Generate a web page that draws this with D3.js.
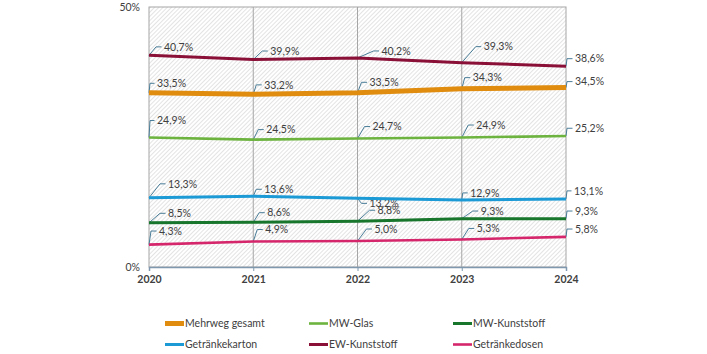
<!DOCTYPE html>
<html><head><meta charset="utf-8">
<script src="https://cdn.jsdelivr.net/npm/d3@7"></script>
<style>body{margin:0;background:#fff}svg{display:block}text{font-family:Lato,"Open Sans",sans-serif;fill:#404040}</style>
</head><body>
<script>
const years = ["2020","2021","2022","2023","2024"];
const seriesNames = ["Mehrweg gesamt","MW-Glas","MW-Kunststoff","Getränkekarton","EW-Kunststoff","Getränkedosen"];
const mehrwegGesamt = [33.5,33.2,33.5,34.3,34.5];
const mwGlas = [24.9,24.5,24.7,24.9,25.2];
const mwKunststoff = [8.5,8.6,8.8,9.3,9.3];
const getraenkekarton = [13.3,13.6,13.2,12.9,13.1];
const ewKunststoff = [40.7,39.9,40.2,39.3,38.6];
const getraenkedosen = [4.3,4.9,5.0,5.3,5.8];
const yTicks = [0,50];
// label offsets (text start dx, text centre dy) in px, layout only
const labelOffsets = [
  [[8,-9.5],[11,-9.5],[12,-10.5],[11,-11],[9,-6]],
  [[8,-17],[13,-10],[15,-12],[14.5,-12.5],[9,-7.7]],
  [[19,-9.5],[14,-9.6],[20,-11],[19,-7.6],[9,-7.6]],
  [[19,-14],[11,-7],[12,5],[8.5,-7],[8,-8]],
  [[15,-8.5],[17,-8.5],[24,-7],[22,-16],[9,-7.6]],
  [[10,-13.6],[12,-12],[17,-12],[15,-11],[9,-7.8]]
];
const colors = ["#df8c0f","#6cb33f","#17752c","#1c9ad6","#8a1038","#d5266b"];
const widths = [5,2.6,3,3,3,2.6];
const allValues = [mehrwegGesamt,mwGlas,mwKunststoff,getraenkekarton,ewKunststoff,getraenkedosen];

const W=707,H=354;
const svg=d3.select("body").append("svg").attr("width",W).attr("height",H);
const x=d3.scalePoint().domain(years).range([149,566]);
const y=d3.scaleLinear().domain([0,50]).range([267,7]);

const defs=svg.append("defs");
const pat=defs.append("pattern").attr("id","hatch").attr("patternUnits","userSpaceOnUse")
  .attr("width",3).attr("height",3).attr("patternTransform","rotate(45)");
pat.append("rect").attr("width",3).attr("height",3).attr("fill","#ffffff");
pat.append("line").attr("x1",0).attr("y1",0).attr("x2",0).attr("y2",3).attr("stroke","#cdcdcd").attr("stroke-width",1.1);

const x0=x(years[0]),x1=x(years[years.length-1]);
svg.append("rect").attr("x",x0).attr("y",y(50)).attr("width",x1-x0).attr("height",y(0)-y(50))
  .attr("fill","url(#hatch)").attr("stroke","#a6a6a6").attr("stroke-width",1);

svg.append("g").selectAll("line").data(years.slice(1,-1)).join("line")
  .attr("x1",d=>x(d)).attr("x2",d=>x(d)).attr("y1",y(50)).attr("y2",y(0))
  .attr("stroke","#a6a6a6").attr("stroke-width",1);

const xAxis=svg.append("g").attr("transform",`translate(0,${y(0)})`)
  .call(d3.axisBottom(x).tickSize(4).tickPadding(5));
xAxis.select(".domain").attr("stroke","#7f98ad").attr("stroke-width",1.5);
xAxis.selectAll(".tick line").attr("stroke","#7f98ad");
xAxis.selectAll("text").style("font-size","10.5px").style("font-weight","bold").attr("fill","#404040");

const yAxis=svg.append("g").attr("transform",`translate(${x0},0)`)
  .call(d3.axisLeft(y).tickValues(yTicks).tickSize(0).tickPadding(9).tickFormat(d=>d+"%"));
yAxis.select(".domain").remove();
yAxis.selectAll("text").style("font-size","10.5px").attr("fill","#404040");

const line=d3.line().x((d,i)=>x(years[i])).y(d=>y(d));
const fmt=v=>d3.format(".1f")(v).replace(".",",")+"%";

const lab=svg.append("g");
allValues.forEach((vals,s)=>{
  vals.forEach((v,i)=>{
    const px=x(years[i]),py=y(v);
    const [dx,dy]=labelOffsets[s][i];
    const ex=px+Math.max(1,dx-8),ey=py+dy,hx=px+dx-2.5;
    lab.append("path").attr("d",`M${px},${py}L${ex},${ey}L${hx},${ey}`)
      .attr("fill","none").attr("stroke","#4a7d98").attr("stroke-width",1);
    lab.append("text").attr("x",px+dx).attr("y",py+dy).attr("dy","0.35em")
      .style("font-size","10.5px").text(fmt(v));
  });
});

svg.append("g").selectAll("path").data(d3.range(allValues.length)).join("path")
  .attr("d",s=>line(allValues[s])).attr("fill","none")
  .attr("stroke",s=>colors[s]).attr("stroke-width",s=>widths[s]);

const legX=[165,309,453],legY=[323.5,344.5];
const leg=svg.append("g");
seriesNames.forEach((n,i)=>{
  const lx=legX[i%3],ly=legY[Math.floor(i/3)];
  leg.append("line").attr("x1",lx).attr("x2",lx+19).attr("y1",ly).attr("y2",ly)
    .attr("stroke",colors[i]).attr("stroke-width",widths[i]);
  leg.append("text").attr("x",lx+20).attr("y",ly).attr("dy","0.35em").style("font-size","10.5px").text(n);
});
</script>
</body></html>
